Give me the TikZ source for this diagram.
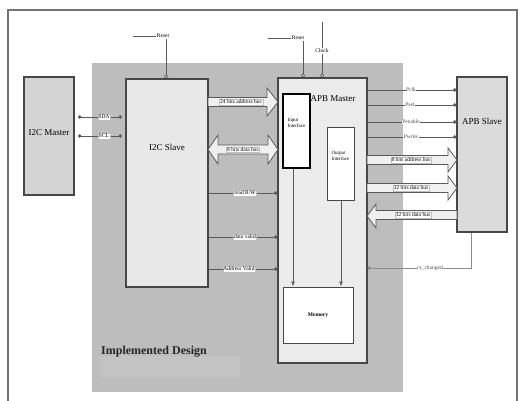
\documentclass[tikz,border=0pt]{standalone}
\usepackage{fontspec}
\setmainfont{Liberation Serif}
\usetikzlibrary{arrows.meta}
\begin{document}
\begin{tikzpicture}[x=1pt,y=-1pt,
  blk/.style={draw=black!72, line width=1.1pt, inner sep=0pt},
  sig/.style={draw=black!65, line width=0.7pt},
  lbl/.style={fill=white, draw=black!25, line width=0.3pt, inner sep=0.8pt, font=\fontsize{5.5}{6}\selectfont},
  tag/.style={inner sep=0.5pt, fill=white, font=\fontsize{5.5}{6}\selectfont},
  fat/.style={draw=black!65, fill=black!6, line width=0.8pt, line join=miter},
  dotR/.style={-{Circle[length=3.5pt]}},
  dotL/.style={{Circle[length=3.5pt]}-},
  dotB/.style={{Circle[length=3.5pt]}-{Circle[length=3.5pt]}},
  ring/.style={-{Circle[open,length=4pt,fill=white]}},
  down/.style={-{Latex[open,length=5pt,width=4pt]}}]
\useasboundingbox (0,0) rectangle (521,400);
\fill[white] (0,0) rectangle (521,400);
\draw[black!55, line width=1.3pt] (8,402) -- (8,10) -- (517,10) -- (517,402);
% implemented design region
\fill[black!26] (92,63) rectangle (403,392);
\fill[black!23.5] (100,356) rectangle (240,377);
\node[font=\bfseries\fontsize{12}{13}\selectfont, text=black!85] (impl) at (154,352) {Implemented Design};
% blocks
\node[blk, fill=black!17, minimum width=50pt, minimum height=118pt] (i2cm) at (49,136) {};
\node[font=\fontsize{9}{10}\selectfont] (i2cmt) at (49,133) {I2C Master};
\node[blk, fill=black!9, minimum width=82pt, minimum height=208pt] (i2cs) at (167,183) {};
\node[font=\fontsize{9}{10}\selectfont] (i2cst) at (167,147) {I2C Slave};
\node[blk, fill=black!8, minimum width=89pt, minimum height=285pt] (apbm) at (322.5,220.5) {};
\node[font=\fontsize{9}{10}\selectfont] (apbmt) at (333,99) {APB Master};
\node[blk, fill=black!14, minimum width=50pt, minimum height=155pt] (apbs) at (482,154.5) {};
\node[font=\fontsize{9}{10}\selectfont] (apbst) at (482,121) {APB Slave};
\node[draw=black, line width=1.4pt, fill=white, minimum width=27pt, minimum height=74pt, inner sep=0pt] (inif) at (296.5,131) {};
\node[font=\fontsize{5}{5.5}\selectfont, align=left] (inift) at (296.5,123) {Input\\Interface};
\node[blk, fill=white, line width=0.9pt, minimum width=27pt, minimum height=73pt] (outif) at (340.5,163.5) {};
\node[font=\fontsize{5}{5.5}\selectfont, align=left] (outift) at (340.5,156) {Output\\Interface};
\node[blk, fill=white, line width=0.9pt, minimum width=70pt, minimum height=56pt] (mem) at (318,315) {};
\node[font=\bfseries\fontsize{5.5}{6}\selectfont] (memt) at (318,315) {Memory};
% internal arrows
\draw[sig, line width=0.9pt, down] (inif.south -| 293,0) -- (mem.north -| 293,0);
\draw[sig, line width=0.9pt, down] (outif.south -| 341,0) -- (mem.north -| 341,0);
% reset / clock
\coordinate (r1s) at (133,36);
\node[tag] (r1) at (163,36) {Reset};
\draw[sig] (r1s) -- (r1.west);
\draw[sig, ring] (r1.south -| 166,0) -- (i2cs.north -| 166,0);
\coordinate (r2s) at (268,38);
\node[tag] (r2) at (298,38) {Reset};
\draw[sig] (r2s) -- (r2.west);
\draw[sig, ring] (303,41) -- (apbm.north -| 303,0);
\coordinate (clks) at (322,22);
\node[tag] (clk) at (322,51) {Clock};
\draw[sig] (clks) -- (clk.north);
\draw[sig, ring] (clk.south) -- (apbm.north -| 322,0);
% SDA / SCL
\draw[sig, dotB] (78,117) -- (122,117);
\node[lbl] (sda) at (104,117) {SDA};
\draw[sig, dotB] (78,136) -- (122,136);
\node[lbl] (scl) at (104,136) {SCL};
% control signals I2C slave -> APB master
\foreach \y/\t/\x/\n in {193/read R\slash W/245/rw, 237/data valid/245/dv, 269/Address Valid/239/av}{
  \draw[sig, dotR] (i2cs.east |- 0,\y) -- (apbm.west |- 0,\y);
  \node[lbl] (\n) at (\x,\y) {\t};
}
% APB signals
\foreach \y/\t/\x/\n in {90/Pclk/411/pclk, 105/Psel/410/psel, 122/Penable/411/pen, 137/Pwrite/411/pwr}{
  \draw[sig, dotR] (apbm.east |- 0,\y) -- (apbs.west |- 0,\y);
  \node[tag, text=black!70] (\n) at (\x,\y) {\t};
}
% rx_changed
\coordinate (rxc) at (471,268);
\draw[sig, draw=black!45, dotL] (apbm.east |- 0,268) -- (rxc) -- (apbs.south -| rxc);
\node[tag, text=black!70] (rx) at (430,268) {rx\_changed};
% fat buses left
\draw[fat] (208,97.5) -- (267,97.5) -- (267,88) -- (278,102) -- (267,116) -- (267,106.5) -- (208,106.5) -- cycle;
\node[lbl] (ab24) at (241,102) {24 bits address bus};
\draw[fat] (208,149.5) -- (218,135) -- (218,145) -- (268,145) -- (268,135) -- (278,149.5) -- (268,164) -- (268,154) -- (218,154) -- (218,164) -- cycle;
\node[lbl] (db8) at (243,149.5) {8 bits data bus};
% fat buses right
\draw[fat] (367,155.5) -- (448,155.5) -- (448,148) -- (457,160) -- (448,172) -- (448,164.5) -- (367,164.5) -- cycle;
\node[lbl] (ab8) at (411,160) {8 bits address bus};
\draw[fat] (367,183.5) -- (448,183.5) -- (448,176) -- (457,188) -- (448,200) -- (448,192.5) -- (367,192.5) -- cycle;
\node[lbl] (db32a) at (411,188) {32 bits data bus};
\draw[fat] (457,210.5) -- (376,210.5) -- (376,204) -- (367,216) -- (376,228) -- (376,219.5) -- (457,219.5) -- cycle;
\node[lbl] (db32b) at (413,215) {32 bits data bus};
\end{tikzpicture}
\end{document}
